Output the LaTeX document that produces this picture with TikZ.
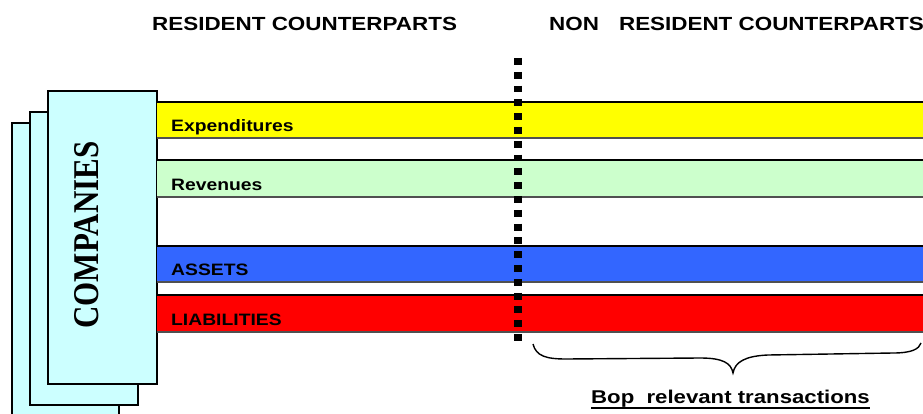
\documentclass[tikz,border=0pt]{standalone}
\usepackage{fontspec}
\setmainfont{Liberation Sans}
\newfontfamily\compfont{Liberation Serif}
\definecolor{pagecol}{HTML}{CCFFFF}
\definecolor{expcol}{HTML}{FFFF00}
\definecolor{revcol}{HTML}{CCFFCC}
\definecolor{asscol}{HTML}{3366FF}
\definecolor{liacol}{HTML}{FF0000}
\definecolor{lowedge}{HTML}{505050}
\newcommand\hscl[2]{\scalebox{#1}[1]{#2}}
\begin{document}
\begin{tikzpicture}[x=1pt,y=-1pt,
  pagebox/.style={draw=black, line width=1.3pt, fill=pagecol},
  bandlbl/.style={anchor=base west, inner sep=0pt, font=\bfseries\fontsize{16.5}{18}\selectfont},
  hdr/.style={anchor=base west, inner sep=0pt, font=\bfseries\fontsize{19}{21}\selectfont},
  topedge/.style={draw=black, line width=1.4pt},
  botedge/.style={draw=lowedge, line width=1.4pt}]
\useasboundingbox (0,0) rectangle (923,414);
\clip (0,0) rectangle (923,414);
% stacked pages
\draw[pagebox] (12,123) rectangle (119,440);
\draw[pagebox] (30,112) rectangle (138,405);
\draw[pagebox] (48,91) rectangle (157,384);
\node[inner sep=0pt] (comp) at (87,235) {\hscl{1.17}{\rotatebox{90}{\compfont\bfseries\fontsize{31}{31}\selectfont COMPANIES}}};
% bands
\foreach \ya/\yb/\col in {102/138/expcol, 160/197/revcol, 246/282/asscol, 295/332/liacol}{
  \fill[\col] (157,\ya) rectangle (940,\yb);
  \draw[topedge] (157,\ya) -- (940,\ya);
  \draw[botedge] (157,\yb) -- (940,\yb);
}
\node[bandlbl] (exp) at (171,132) {\hscl{1.17}{Expenditures}};
\node[bandlbl] (rev) at (171,190) {\hscl{1.17}{Revenues}};
\node[bandlbl] (ass) at (171,275.5) {\hscl{1.17}{ASSETS}};
\node[bandlbl] (lia) at (171,325) {\hscl{1.17}{LIABILITIES}};
% headers
\node[hdr] (h1) at (152,31) {\hscl{1.18}{RESIDENT COUNTERPARTS}};
\node[hdr] (h2) at (549,31) {\hscl{1.18}{NON\hspace{17pt}RESIDENT COUNTERPARTS}};
% dotted divider
\coordinate (dtop) at (518,58);
\coordinate (dbot) at (518,342);
\draw[line width=7.5pt, dash pattern=on 6.9pt off 6.9pt] (dtop) -- (dbot);
% brace
\coordinate (bl) at (533,344);
\coordinate (btip) at (733,373);
\coordinate (br) at (921,343);
\draw[line width=1.4pt] (bl) .. controls (536,356) and (546,359) .. (566,359)
  -- (700,358) .. controls (723,358) and (731,363) .. (btip)
  .. controls (735,362) and (745,356) .. (768,355)
  -- (893,353) .. controls (912,353) and (919,349) .. (br);
% bottom label
\node[anchor=base west, inner sep=0pt, font=\bfseries\fontsize{18.5}{20}\selectfont] (bop) at (591,403.3) {\hscl{1.2}{Bop\hspace{5pt} relevant transactions}};
\draw[line width=2pt] ([yshift=-4.8pt]bop.base west) -- ([yshift=-4.8pt]bop.base east);
\end{tikzpicture}
\end{document}
